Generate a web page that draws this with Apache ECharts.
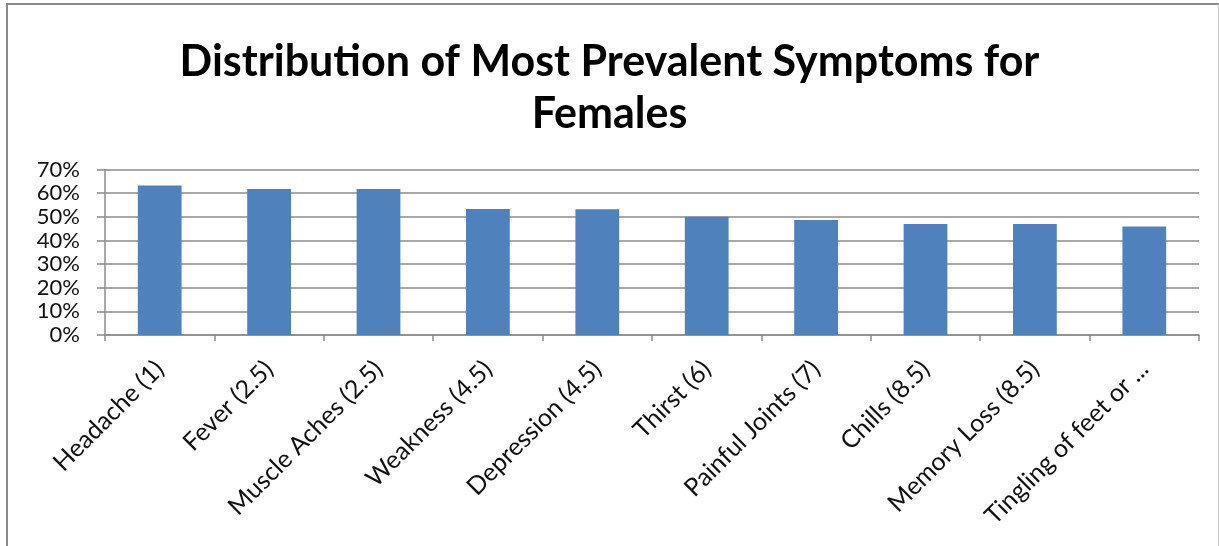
<!DOCTYPE html>
<html>
<head>
<meta charset="utf-8">
<script src="https://cdn.jsdelivr.net/npm/echarts@6/dist/echarts.min.js"></script>
<style>
html,body{margin:0;padding:0;background:#fff;width:1219px;height:546px;overflow:hidden;}
#frame{position:absolute;left:6px;top:3px;width:1213px;height:560px;border:2px solid #8a8a8a;border-right:1px solid #c8c8c8;box-sizing:border-box;}
#chart{position:absolute;left:0;top:0;width:1219px;height:546px;}
</style>
</head>
<body>
<div id="frame"></div>
<div id="chart"></div>
<script>
const categories = ["Headache (1)", "Fever (2.5)", "Muscle Aches (2.5)", "Weakness (4.5)", "Depression (4.5)", "Thirst (6)", "Painful Joints (7)", "Chills (8.5)", "Memory Loss (8.5)", "Tingling of feet or ..."];
const values = [63.2, 61.7, 61.7, 53.3, 53.2, 50.0, 48.6, 46.9, 46.9, 45.9];
const titleLines = ["Distribution of Most Prevalent Symptoms for", "Females"];

const chart = echarts.init(document.getElementById('chart'), null, {renderer: 'canvas'});
chart.setOption({
  backgroundColor: 'transparent',
  animation: false,
  title: {
    text: titleLines.join('\n'),
    left: 'center',
    top: 31,
    textStyle: {fontFamily: 'Lato', fontWeight: 'bold', fontSize: 43, color: '#000', lineHeight: 52}
  },
  grid: {left: 105, right: 20, top: 169.5, bottom: 211, containLabel: false},
  xAxis: {
    type: 'category',
    data: categories,
    axisLine: {lineStyle: {color: '#8c8c8c', width: 1.5}},
    axisTick: {show: true, alignWithLabel: false, length: 6, lineStyle: {color: '#8c8c8c', width: 1.5}},
    axisLabel: {rotate: 45, interval: 0, margin: 30, fontFamily: 'Lato', fontSize: 25, color: '#111'}
  },
  yAxis: {
    type: 'value',
    min: 0, max: 70, interval: 10,
    axisLine: {show: true, lineStyle: {color: '#8c8c8c', width: 1.5}},
    axisTick: {show: true, inside: false, length: 8, lineStyle: {color: '#8c8c8c', width: 1.5}},
    splitLine: {show: true, lineStyle: {color: '#8c8c8c', width: 1.5}},
    axisLabel: {formatter: '{value}%', margin: 25, fontFamily: 'Lato', fontSize: 22, color: '#111'}
  },
  series: [{
    type: 'bar',
    data: values,
    barWidth: '40%',
    itemStyle: {color: '#4f81bd'}
  }]
});
</script>
</body>
</html>
